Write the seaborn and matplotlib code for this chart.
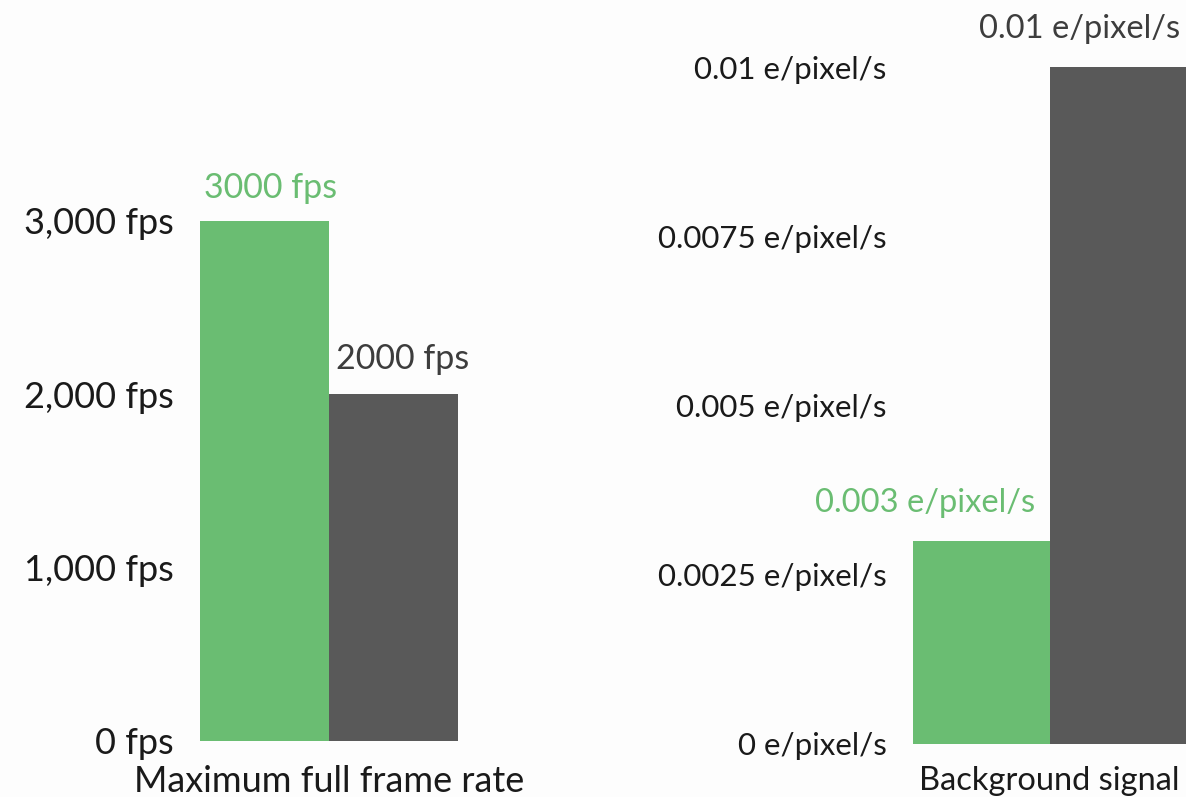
import matplotlib
matplotlib.use("Agg")
import matplotlib.pyplot as plt
import seaborn as sns
import pandas as pd
from matplotlib.ticker import FuncFormatter

# --- data -------------------------------------------------------------
series = ["Model 1", "Model 2"]
frame_rate_fps = [3000, 2000]
background_e_px_s = [0.003, 0.01]

frame_rate_ticks = [0, 1000, 2000, 3000]
background_ticks = [0, 0.0025, 0.005, 0.0075, 0.01]

frame_rate_title = "Maximum full frame rate"
background_title = "Background signal"

colors = ["#6abd72", "#595959"]
label_colors = ["#6abd72", "#3d3d3d"]

# --- style ------------------------------------------------------------
sns.set_theme(style="white")
plt.rcParams["font.family"] = ["Lato", "DejaVu Sans"]

W, H = 1186, 797
fig = plt.figure(figsize=(W / 100, H / 100), dpi=100)
fig.patch.set_facecolor("#fdfdfd")


def px_axes(x0, x1, y_bottom, y_top):
    return fig.add_axes([x0 / W, 1 - y_bottom / H, (x1 - x0) / W, (y_bottom - y_top) / H])


def draw_panel(ax, values, ticks, tick_fmt, value_fmt, title, ymax,
               tick_size, title_size, value_size, anchor, offsets, title_pad):
    df = pd.DataFrame({"metric": [title] * len(values), "series": series, "value": values})
    sns.barplot(data=df, x="metric", y="value", hue="series", palette=colors,
                saturation=1, width=0.8, dodge=True, legend=False, linewidth=0, ax=ax)
    ax.set_xlim(-0.4, 0.4)
    ax.set_ylim(0, ymax)
    ax.set_facecolor("none")
    for s in ax.spines.values():
        s.set_visible(False)
    ax.set_xticks([])
    ax.set_yticks(ticks)
    ax.yaxis.set_major_formatter(FuncFormatter(tick_fmt))
    ax.tick_params(axis="y", length=0, pad=19, labelsize=tick_size, labelcolor="#1a1a1a")
    ax.set_xlabel(title, fontsize=title_size, color="#1a1a1a", labelpad=title_pad)
    ax.set_ylabel("")

    for patch, v, c, (dx, dy) in zip(ax.patches, values, label_colors, offsets):
        if anchor == "center":
            x, ha = patch.get_x() + patch.get_width() / 2, "center"
        else:
            x, ha = patch.get_x() + patch.get_width(), "right"
        ax.annotate(value_fmt(v), (x, v), xytext=(dx, dy), textcoords="offset points",
                    ha=ha, va="baseline", fontsize=value_size, fontweight="normal",
                    color=c, annotation_clip=False)


# left panel: frame rate
ax1 = px_axes(200, 458, 741, 100)
draw_panel(ax1, frame_rate_fps, frame_rate_ticks,
           lambda v, p: f"{v:,.0f} fps",
           lambda v: f"{v:g} fps",
           frame_rate_title, 3000 + 121 / 521 * 3000,
           tick_size=26, title_size=26, value_size=24.5,
           anchor="center", offsets=[(4.5, 16.5), (6.5, 18)], title_pad=17)

# right panel: background signal
ax2 = px_axes(913, 1186, 744, 10)
draw_panel(ax2, background_e_px_s, background_ticks,
           lambda v, p: f"{v:g} e/pixel/s",
           lambda v: f"{v:g} e/pixel/s",
           background_title, 0.01 + 57 / 677 * 0.01,
           tick_size=22.5, title_size=23.5, value_size=23.5,
           anchor="right", offsets=[(-10, 21), (-4, 21)], title_pad=16)

fig.savefig("out.png", dpi=100, facecolor=fig.get_facecolor())
